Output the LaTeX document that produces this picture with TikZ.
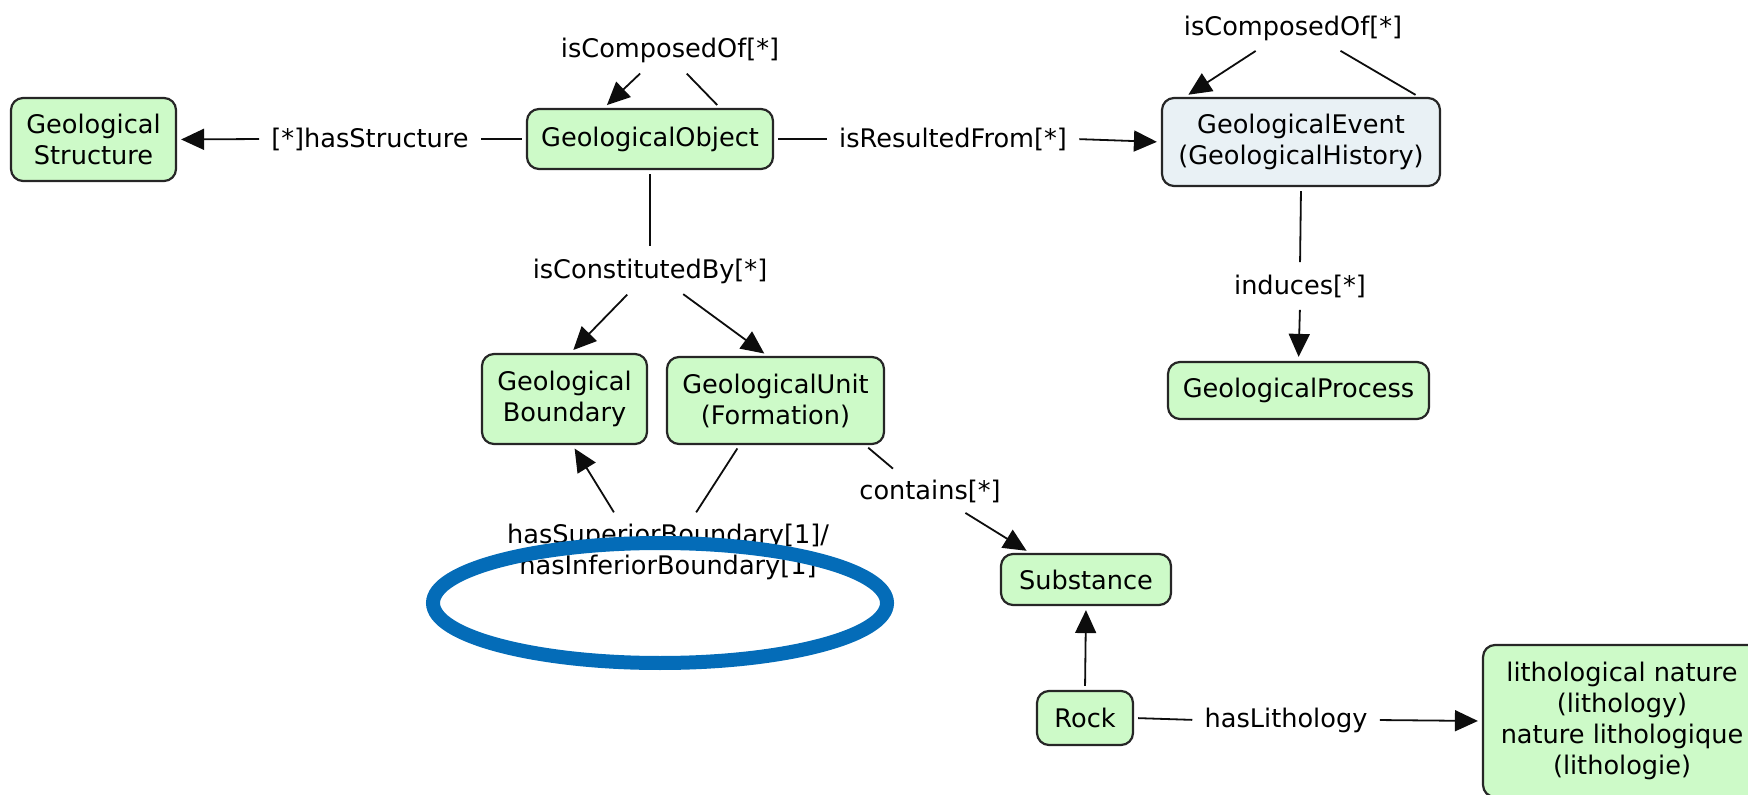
\documentclass[tikz,border=0pt]{standalone}
\usepackage{fontspec}
\setmainfont{DejaVu Sans}
\usetikzlibrary{arrows.meta}
\definecolor{conceptgreen}{RGB}{205,250,200}
\definecolor{eventgrey}{RGB}{233,241,245}
\definecolor{markblue}{RGB}{4,108,184}
\tikzset{
concept/.style={
	  draw=black!85, fill=conceptgreen, rounded corners=6pt, line width=1.1pt,
	    align=center, inner sep=0pt},
phrase/.style={inner sep=4pt, align=center},
relline/.style={draw=black!95, line width=0.9pt, shorten <=2pt, shorten >=2pt},
relarrow/.style={relline, -{Triangle[length=11.5pt,width=10.5pt]}}
}

\begin{document}
\begin{tikzpicture}[x=0.5pt, y=-0.5pt, font=\fontsize{12.8pt}{15.5pt}\selectfont]
	\useasboundingbox (0,0) rectangle (1748,795);
	\clip (0,0) rectangle (1748,795);
	\node[concept, minimum width=82.5pt, minimum height=41.5pt] (geoStruct) at (93.5,139.5) {Geological\\Structure};
	\node[concept, minimum width=123pt, minimum height=30pt] (geoObj) at (650,139) {GeologicalObject};
	\node[concept, fill=eventgrey, minimum width=139pt, minimum height=44pt] (geoEvent) at (1301,142) {GeologicalEvent\\(GeologicalHistory)};
	\node[concept, minimum width=130.5pt, minimum height=28.5pt] (geoProc) at (1298.5,390.5) {GeologicalProcess};
	\node[concept, minimum width=82.5pt, minimum height=45pt] (geoBound) at (564.5,399) {Geological\\Boundary};
	\node[concept, minimum width=108.5pt, minimum height=43.5pt] (geoUnit) at (775.5,400.5) {GeologicalUnit\\(Formation)};
	\node[concept, minimum width=85pt, minimum height=25.5pt] (subst) at (1086,579.5) {Substance};
	\node[concept, minimum width=48pt, minimum height=27pt] (rock) at (1085,718) {Rock};
	\node[concept, minimum width=139pt, minimum height=76pt] (litho) at (1622,721) {lithological nature\\(lithology)\\nature lithologique\\(lithologie)};

	\node[phrase] (hasStruct) at (370,139) {[*]hasStructure};
	\node[phrase] (resFrom) at (953,139) {isResultedFrom[*]};
	\node[phrase] (compObj) at (670,50) {isComposedOf[*]};
	\node[phrase] (compEvent) at (1293,28) {isComposedOf[*]};
	\node[phrase] (induces) at (1300,286) {induces[*]};
	\node[phrase] (constBy) at (650,271) {isConstitutedBy[*]};
	\node[phrase] (boundOf) at (668,552) {hasSuperiorBoundary[1]/\\hasInferiorBoundary[1]};
	\node[phrase] (contains) at (930,491) {contains[*]};
	\node[phrase] (hasLith) at (1286,720) {hasLithology};

	\draw[relline] (geoObj.west) -- (hasStruct.east);
	\draw[relarrow] (hasStruct.west) -- (geoStruct.east);
	\draw[relline] (geoObj.east) -- (resFrom.west);
	\draw[relarrow] (resFrom.east) -- (geoEvent.west);
	\draw[relline] ([xshift=35pt]geoObj.north) -- ([xshift=7pt]compObj.south);
	\draw[relarrow] ([xshift=-13.5pt]compObj.south) -- ([xshift=-23pt]geoObj.north);
	\draw[relline] ([xshift=59pt]geoEvent.north) -- ([xshift=22pt]compEvent.south);
	\draw[relarrow] ([xshift=-17pt]compEvent.south) -- ([xshift=-58pt]geoEvent.north);
	\draw[relline] (geoEvent.south) -- (induces.north);
	\draw[relarrow] (induces.south) -- (geoProc.north);
	\draw[relline] (geoObj.south) -- (constBy.north);
	\draw[relarrow] ([xshift=-10pt]constBy.south) -- ([xshift=3pt]geoBound.north);
	\draw[relarrow] ([xshift=15pt]constBy.south) -- ([xshift=-4pt]geoUnit.north);
	\draw[relline] ([xshift=-18pt]geoUnit.south) -- ([xshift=13pt]boundOf.north);
	\draw[relarrow] ([xshift=-26pt]boundOf.north) -- ([xshift=4pt]geoBound.south);
	\draw[relline] ([xshift=-10pt]geoUnit.south east) -- ([xshift=-17pt]contains.north);
	\draw[relarrow] ([xshift=16pt]contains.south) -- ([xshift=-28pt]subst.north);
	\draw[relarrow] (rock.north) -- (subst.south);
	\draw[relline] (rock.east) -- (hasLith.west);
	\draw[relarrow] (hasLith.east) -- (litho.west);

	\draw[markblue, line width=7pt] (660,603) ellipse [x radius=113.5pt, y radius=30pt];
\end{tikzpicture}
\end{document}
